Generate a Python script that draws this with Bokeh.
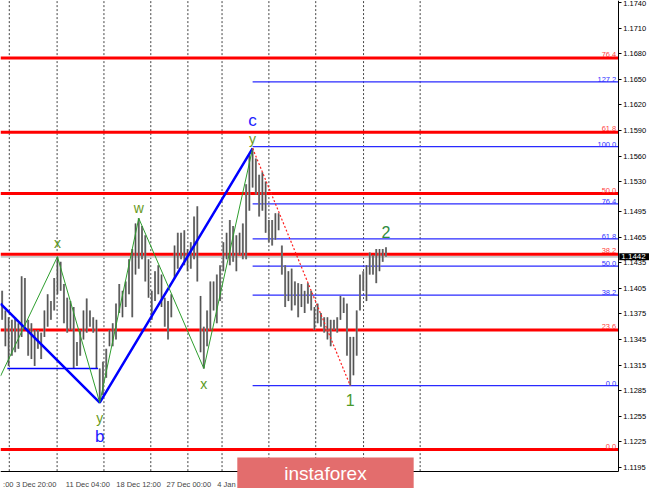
from bokeh.plotting import figure
from bokeh.models import Range1d, FixedTicker, Label, ColumnDataSource, PrintfTickFormatter
from bokeh.core.properties import value
from bokeh.embed import file_html
from bokeh.resources import INLINE

# ---- data (bar highs / lows) ----
highs = [1.1402,1.1379,1.1371,1.1368,1.1371,1.1364,1.1419,1.1417,1.1368,1.1364,
         1.1356,1.1356,1.1353,1.1379,1.1398,1.1390,1.1417,1.1442,1.1436,1.1410,
         1.1394,1.1390,1.1383,1.1342,1.1356,1.1379,1.1393,1.1379,1.1371,1.1368,
         1.1311,1.1319,1.1334,1.1356,1.1364,1.1387,1.1410,1.1402,1.1413,1.1439,
         1.1451,1.1481,1.1487,1.1478,1.1467,1.1439,1.1402,1.1425,1.1432,1.1421,
         1.1394,1.1390,1.1398,1.1455,1.1470,1.1470,1.1473,1.1451,1.1459,1.1489,
         1.1501,1.1396,1.1360,1.1379,1.1413,1.1413,1.1421,1.1432,1.1459,1.1470,
         1.1485,1.1478,1.1467,1.1470,1.1481,1.1527,1.1561,1.1569,1.1557,1.1538,
         1.1541,1.1530,1.1485,1.1485,1.1493,1.1493,1.1455,1.1432,1.1425,1.1428,
         1.1413,1.1411,1.1410,1.1402,1.1411,1.1402,1.1383,1.1387,1.1376,1.1371,
         1.1371,1.1368,1.1368,1.1371,1.1396,1.1394,1.1387,1.1348,1.1348,1.1379,
         1.1421,1.1425,1.1432,1.1447,1.1444,1.1451,1.1451,1.1451,1.1453]
lows = [1.1368,1.1337,1.1314,1.1326,1.1330,1.1334,1.1348,1.1360,1.1326,1.1322,
        1.1314,1.1334,1.1322,1.1348,1.1360,1.1368,1.1379,1.1398,1.1402,1.1364,
        1.1353,1.1356,1.1311,1.1314,1.1326,1.1345,1.1353,1.1360,1.1353,1.1311,
        1.1271,1.1280,1.1300,1.1337,1.1337,1.1345,1.1376,1.1371,1.1383,1.1398,
        1.1371,1.1421,1.1428,1.1439,1.1413,1.1394,1.1368,1.1390,1.1398,1.1383,
        1.1360,1.1345,1.1371,1.1417,1.1428,1.1439,1.1432,1.1425,1.1428,1.1439,
        1.1413,1.1330,1.1311,1.1337,1.1356,1.1379,1.1364,1.1390,1.1425,1.1439,
        1.1432,1.1436,1.1425,1.1444,1.1439,1.1439,1.1496,1.1523,1.1515,1.1489,
        1.1496,1.1470,1.1459,1.1455,1.1462,1.1473,1.1421,1.1383,1.1390,1.1379,
        1.1385,1.1371,1.1383,1.1376,1.1387,1.1379,1.1356,1.1364,1.1360,1.1353,
        1.1345,1.1337,1.1356,1.1353,1.1368,1.1376,1.1326,1.1291,1.1303,1.1326,
        1.1379,1.1402,1.1390,1.1421,1.1421,1.1411,1.1425,1.1436,1.1442]
bar_index = list(range(len(highs)))
last_price = 1.1442

# time axis labels (positions in bar units)
time_tick_pos = [1.9, 10.45, 26.35, 41.95, 57.4, 68.95]
time_tick_labels = [":00", "3 Dec 20:00", "11 Dec 04:00", "18 Dec 12:00", "27 Dec 00:00", "4 Jan"]
grid_pos = [2.2, 16.9, 31.3, 45.7, 57.1, 67.6, 82.0, 96.4, 111.1, 128.5]

price_ticks = [1.1195, 1.1225, 1.1255, 1.1285, 1.1315, 1.1345, 1.1375, 1.1405, 1.1435,
               1.1465, 1.1495, 1.1530, 1.1560, 1.1590, 1.1620, 1.1650, 1.1680, 1.1710, 1.1740]

# Fibonacci levels
red_names = ["0.0", "23.6", "38.2", "50.0", "61.8", "76.4"]
red_vals = [1.1216, 1.1356, 1.1445, 1.1516, 1.1588, 1.1675]
blue_names = ["0.0", "38.2", "50.0", "61.8", "76.4", "100.0", "127.2"]
blue_vals = [1.1291, 1.1397, 1.1431, 1.1463, 1.1504, 1.1571, 1.1647]

# wave structure
blue_wave_x = [-0.5, 30, 77]
blue_wave_y = [1.1387, 1.1271, 1.1569]
green_wave_x = [-0.5, 17, 30, 42, 62, 77]
green_wave_y = [1.1302, 1.1442, 1.1271, 1.1487, 1.1311, 1.1569]
base_line_x = [1.6, 29.5]
base_line_y = [1.1311, 1.1311]
drop_x = [77, 107]
drop_y = [1.1569, 1.1291]

# view: frame covers the whole canvas, axes are pinned inside it
X0, X_AX, X_END = -0.5, 189.4, 199.0
Y_TOP, Y_AX, Y_END = 1.17423, 1.11907, 1.11703
FONT = "Liberation Sans"

p = figure(width=649, height=488, output_backend="svg", toolbar_location=None,
           x_range=Range1d(X0, X_END), y_range=Range1d(Y_END, Y_TOP), y_axis_location="right",
           min_border_left=0, min_border_top=0, min_border_right=0, min_border_bottom=0)
p.outline_line_color = None
p.background_fill_color = "white"
p.border_fill_color = "white"

# axes
ya = p.yaxis[0]
ya.fixed_location = X_AX
ya.bounds = (Y_AX, Y_TOP)
ya.ticker = FixedTicker(ticks=price_ticks)
ya.formatter = PrintfTickFormatter(format="%.4f")
ya.major_label_text_font = FONT
ya.major_label_text_font_size = "7.5px"
ya.major_label_text_color = "black"
ya.major_tick_out = 3
ya.major_tick_in = 0
ya.minor_tick_line_color = None
ya.major_label_standoff = 2
ya.axis_line_color = "black"

xa = p.xaxis[0]
xa.fixed_location = Y_AX
xa.bounds = (X0, X_AX)
xa.ticker = FixedTicker(ticks=time_tick_pos)
xa.major_label_overrides = {t: l for t, l in zip(time_tick_pos, time_tick_labels)}
xa.major_label_text_font = FONT
xa.major_label_text_font_size = "7.5px"
xa.major_tick_line_color = None
xa.minor_tick_line_color = None
xa.major_label_standoff = 3
xa.axis_line_color = "black"

p.xgrid.visible = False
p.ygrid.visible = False
# dotted vertical grid, stopping at the time axis
p.segment(x0=grid_pos, y0=[Y_AX] * len(grid_pos), x1=grid_pos, y1=[Y_TOP] * len(grid_pos),
          line_color="#444444", line_dash="2 2", line_width=1)

# current price line
p.segment(x0=[X0], y0=[last_price], x1=[X_AX], y1=[last_price], line_color="#c8c8c8", line_width=2)

# red fib levels
n_r = len(red_vals)
p.segment(x0=[X0] * n_r, y0=red_vals, x1=[X_AX] * n_r, y1=red_vals, line_color="#ff0000", line_width=3)
p.text(x=[X_AX] * n_r, y=red_vals, text=red_names, text_align="right", text_baseline="bottom",
       x_offset=-2, y_offset=-1, text_font=value(FONT), text_font_size="7.5px", text_color="#ff4040")

# blue fib levels from c to the axis
n_b = len(blue_vals)
p.segment(x0=[blue_wave_x[2]] * n_b, y0=blue_vals, x1=[X_AX] * n_b, y1=blue_vals,
          line_color="#2a2aff", line_width=1.2)
p.text(x=[X_AX] * n_b, y=blue_vals, text=blue_names, text_align="right", text_baseline="bottom",
       x_offset=-2, y_offset=0, text_font=value(FONT), text_font_size="7.5px", text_color="#3030ff")

# bars
src = ColumnDataSource(dict(x=bar_index, h=highs, l=lows))
p.vbar(x="x", bottom="l", top="h", width=0.62, source=src, fill_color="#8e8e8e", line_color=None)
p.segment(x0="x", y0="l", x1="x", y1="h", source=src, line_color="#1a1a1a", line_width=0.9, line_alpha=0.6)

# wave lines
p.line(blue_wave_x, blue_wave_y, line_color="#0000ff", line_width=2.5)
p.line(base_line_x, base_line_y, line_color="#0000ff", line_width=1.5)
p.line(green_wave_x, green_wave_y, line_color="#2e9e2e", line_width=1)
p.line(drop_x, drop_y, line_color="#ff2020", line_width=1.2, line_dash="2 2")

# wave labels
def lab(x, y, t, color, size, yoff):
    p.text(x=[x], y=[y], text=[t], text_align="center", text_baseline="middle", y_offset=yoff,
           text_font=value(FONT), text_font_size=size, text_color=color)

lab(blue_wave_x[2], blue_wave_y[2], "c", "#2020ff", "17px", -28)
lab(green_wave_x[5], green_wave_y[5], "y", "#6a9a1a", "14px", -9)
lab(green_wave_x[3], green_wave_y[3], "w", "#6a9a1a", "14px", -10)
lab(green_wave_x[1], green_wave_y[1], "x", "#5a9a22", "14px", -14)
lab(green_wave_x[4], green_wave_y[4], "x", "#5a9a22", "14px", 16)
lab(green_wave_x[2], green_wave_y[2], "y", "#6a9a1a", "14px", 15)
lab(blue_wave_x[1], blue_wave_y[1], "b", "#2020ff", "17px", 34)
lab(drop_x[1], drop_y[1], "1", "#4a9a2a", "16px", 14)
lab(bar_index[-1], highs[-1], "2", "#2e8b3e", "16px", -15)

# price box on the axis
p.add_layout(Label(x=X_AX, y=last_price, x_offset=1, text="%.4f" % last_price, text_color="white",
                   text_font=FONT, text_font_size="8px", text_align="left", text_baseline="middle",
                   background_fill_color="black", padding=dict(left=2, right=5, top=1, bottom=1)))

# watermark
p.add_layout(Label(x=99.4, y=1.11878, text="instaforex", text_color="white",
                   text_font=FONT, text_font_size="19px", text_align="center", text_baseline="middle",
                   background_fill_color="#e36d6d", padding=dict(left=47, right=47, top=5, bottom=6)))

open("out.html", "w").write(file_html(p, INLINE))
